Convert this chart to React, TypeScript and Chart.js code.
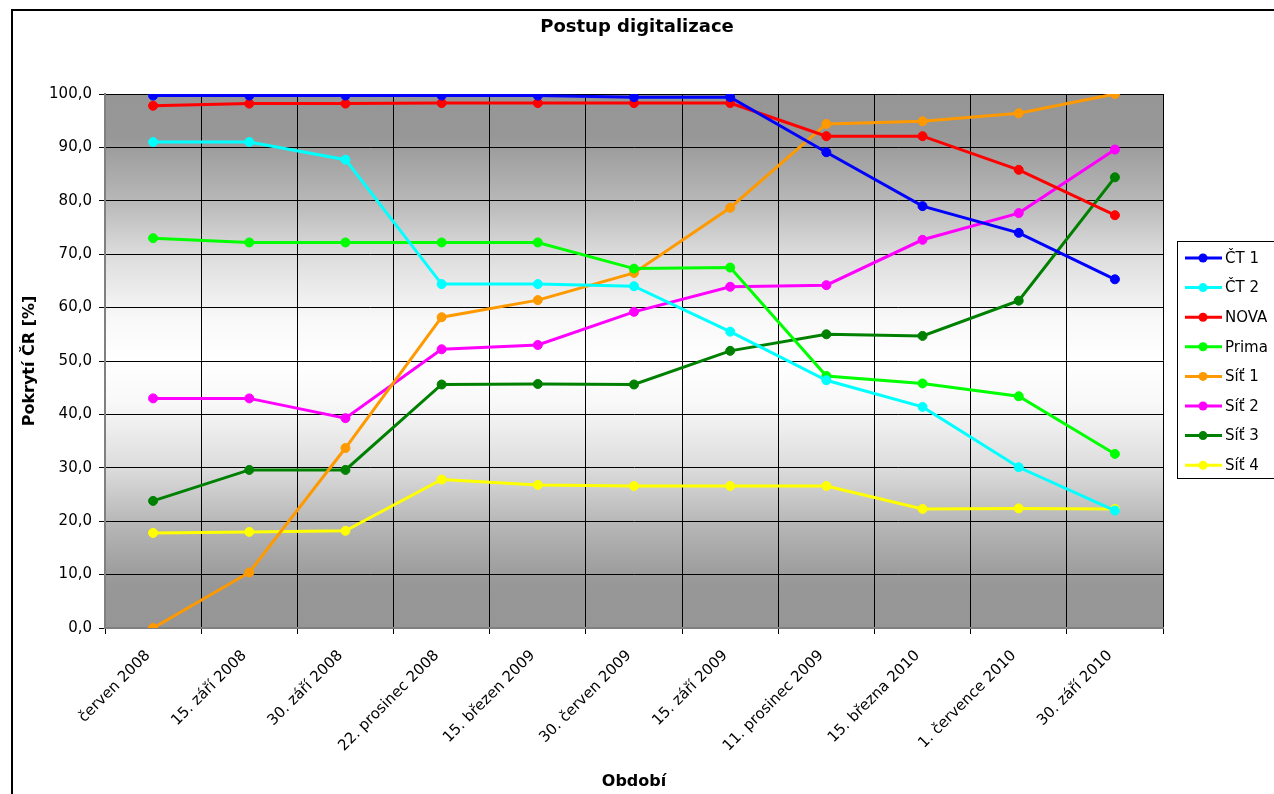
import React, { useEffect, useRef } from "react";
import { Chart, registerables } from "chart.js";

Chart.register(...registerables);

const FONT = "'DejaVu Sans', 'Liberation Sans', Arial, sans-serif";

const chartTitle = "Postup digitalizace";
const xAxisTitle = "Období";
const yAxisTitle = "Pokrytí ČR [%]";

const categories = [
  "červen 2008",
  "15. září 2008",
  "30. září 2008",
  "22. prosinec 2008",
  "15. březen 2009",
  "30. červen 2009",
  "15. září 2009",
  "11. prosinec 2009",
  "15. března 2010",
  "1. července 2010",
  "30. září 2010",
];

const seriesNames = ["ČT 1", "ČT 2", "NOVA", "Prima", "Síť 1", "Síť 2", "Síť 3", "Síť 4"];
const seriesColors = ["#0000ff", "#00ffff", "#ff0000", "#00ff00", "#ff9900", "#ff00ff", "#008000", "#ffff00"];

const ct1 = [99.7, 99.7, 99.7, 99.7, 99.7, 99.4, 99.4, 89.1, 79.0, 74.0, 65.3];
const ct2 = [91.0, 91.0, 87.7, 64.4, 64.4, 64.0, 55.5, 46.4, 41.4, 30.1, 22.0];
const nova = [97.8, 98.2, 98.2, 98.3, 98.3, 98.3, 98.3, 92.1, 92.1, 85.8, 77.3];
const prima = [73.0, 72.2, 72.2, 72.2, 72.2, 67.3, 67.5, 47.2, 45.8, 43.4, 32.6];
const sit1 = [0.0, 10.4, 33.7, 58.2, 61.4, 66.5, 78.7, 94.4, 94.9, 96.4, 100.0];
const sit2 = [43.0, 43.0, 39.3, 52.2, 53.0, 59.2, 63.9, 64.2, 72.7, 77.7, 89.6];
const sit3 = [23.8, 29.6, 29.6, 45.6, 45.7, 45.6, 51.9, 55.0, 54.7, 61.3, 84.4];
const sit4 = [17.8, 18.0, 18.2, 27.8, 26.8, 26.6, 26.6, 26.6, 22.3, 22.4, 22.3];

const seriesValues = [ct1, ct2, nova, prima, sit1, sit2, sit3, sit4];

const yMin = 0;
const yMax = 100;
const yStep = 10;

const backgroundPlugin = {
  id: "plotBackground",
  beforeDraw(chart: any) {
    const { ctx, chartArea: a } = chart;
    const g = ctx.createLinearGradient(0, a.top, 0, a.bottom);
    g.addColorStop(0, "#969696");
    g.addColorStop(0.08, "#979797");
    g.addColorStop(0.2, "#b8b8b8");
    g.addColorStop(0.3, "#dcdcdc");
    g.addColorStop(0.42, "#f8f8f8");
    g.addColorStop(0.5, "#ffffff");
    g.addColorStop(0.58, "#f8f8f8");
    g.addColorStop(0.7, "#dcdcdc");
    g.addColorStop(0.8, "#b8b8b8");
    g.addColorStop(0.92, "#979797");
    g.addColorStop(1, "#969696");
    ctx.save();
    ctx.fillStyle = g;
    ctx.fillRect(a.left, a.top, a.right - a.left, a.bottom - a.top);
    ctx.restore();
  },
};

const legendPlugin = {
  id: "boxLegend",
  afterDraw(chart: any) {
    const ctx = chart.ctx;
    const x0 = 1177;
    const y0 = 241;
    const h = 237;
    ctx.save();
    ctx.fillStyle = "#ffffff";
    ctx.fillRect(x0, y0, 200, h);
    ctx.strokeStyle = "#000000";
    ctx.lineWidth = 1;
    ctx.strokeRect(x0 + 0.5, y0 + 0.5, 200, h);
    chart.data.datasets.forEach((ds: any, i: number) => {
      const y = 258 + i * 29.6;
      ctx.strokeStyle = ds.borderColor;
      ctx.lineWidth = 3;
      ctx.beginPath();
      ctx.moveTo(1185, y);
      ctx.lineTo(1222, y);
      ctx.stroke();
      ctx.fillStyle = ds.borderColor;
      ctx.beginPath();
      ctx.arc(1203, y, 4.5, 0, Math.PI * 2);
      ctx.fill();
      ctx.fillStyle = "#000000";
      ctx.font = `15px ${FONT}`;
      ctx.textBaseline = "middle";
      ctx.textAlign = "left";
      ctx.fillText(ds.label, 1225, y + 1);
    });
    ctx.restore();
  },
};

export default function App() {
  const ref = useRef<HTMLCanvasElement>(null);

  useEffect(() => {
    const chart = new Chart(ref.current as HTMLCanvasElement, {
      type: "line",
      data: {
        labels: categories,
        datasets: seriesNames.map((name, i) => ({
          label: name,
          data: seriesValues[i],
          borderColor: seriesColors[i],
          backgroundColor: seriesColors[i],
          pointBackgroundColor: seriesColors[i],
          pointBorderColor: seriesColors[i],
          pointRadius: 4.5,
          pointBorderWidth: 1,
          borderWidth: 3,
          tension: 0,
          fill: false,
          yAxisID: "y",
        })),
      },
      options: {
        responsive: false,
        animation: false,
        layout: { padding: { left: 0, right: 0, top: 0, bottom: 0 } },
        plugins: {
          legend: { display: false },
          tooltip: { enabled: false },
          title: {
            display: true,
            text: chartTitle,
            color: "#000000",
            font: { family: FONT, size: 18, weight: "bold" },
            padding: { top: 17, bottom: 55.4 },
          },
        },
        scales: {
          x: {
            type: "category",
            offset: true,
            grid: { offset: true, color: "#000000", lineWidth: 1, tickLength: 6, drawTicks: true },
            border: { display: true, color: "#808080", width: 2 },
            ticks: {
              autoSkip: false,
              maxRotation: 45,
              minRotation: 45,
              color: "#000000",
              font: { family: FONT, size: 15 },
              padding: 13,
              labelOffset: -5,
            },
            title: {
              display: true,
              text: xAxisTitle,
              color: "#000000",
              font: { family: FONT, size: 16, weight: "bold" },
              padding: { top: 0, bottom: 3 },
            },
            afterFit: (s: any) => {
              s.height = 166;
            },
          },
          y: {
            type: "linear",
            position: "left",
            min: yMin,
            max: yMax,
            ticks: {
              stepSize: yStep,
              color: "#000000",
              font: { family: FONT, size: 15 },
              padding: 7,
              callback: (v: any) => Number(v).toFixed(1).replace(".", ","),
            },
            grid: { color: "#000000", lineWidth: 1, tickLength: 6 },
            border: { display: true, color: "#808080", width: 2 },
            title: {
              display: true,
              text: yAxisTitle,
              color: "#000000",
              font: { family: FONT, size: 16, weight: "bold" },
              padding: { top: 20, bottom: 0 },
            },
            afterFit: (s: any) => {
              s.width = 105;
            },
          },
          legendSpace: {
            type: "linear",
            position: "right",
            display: true,
            min: yMin,
            max: yMax,
            grid: { display: false, drawOnChartArea: false, drawTicks: false },
            border: { display: false },
            ticks: { display: false },
            afterFit: (s: any) => {
              s.width = 111;
            },
          },
        },
      },
      plugins: [backgroundPlugin, legendPlugin],
    } as any);
    return () => chart.destroy();
  }, []);

  return (
    <div
      style={{
        position: "fixed",
        left: 0,
        top: 0,
        width: 1274,
        height: 794,
        background: "#ffffff",
        overflow: "hidden",
      }}
    >
      <canvas
        ref={ref}
        width={1274}
        height={794}
        style={{ position: "absolute", left: 0, top: 0, width: 1274, height: 794 }}
      />
      <div
        style={{
          position: "absolute",
          left: 11,
          top: 9,
          width: 1400,
          height: 900,
          border: "2px solid #000000",
          pointerEvents: "none",
        }}
      />
    </div>
  );
}
